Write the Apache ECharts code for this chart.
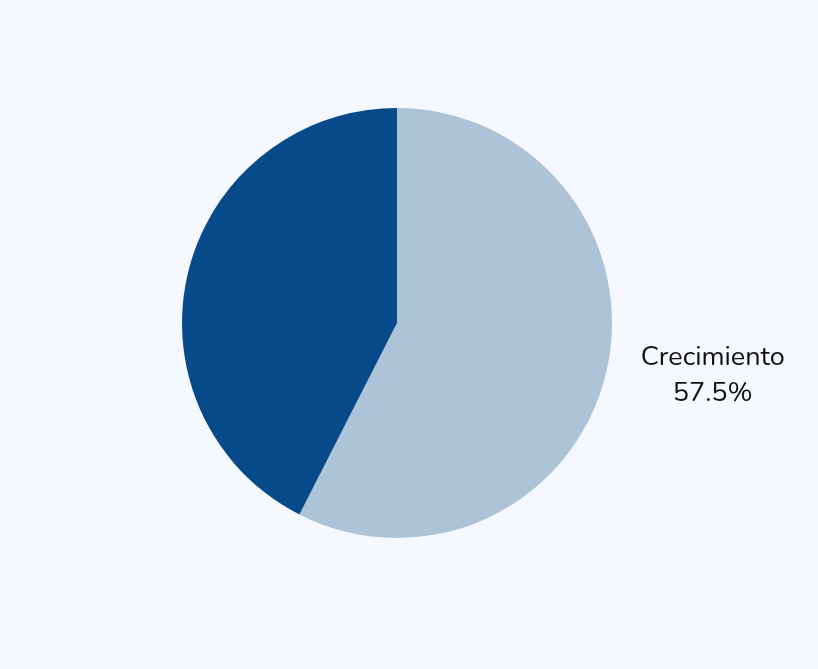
<!DOCTYPE html>
<html>
<head>
<meta charset="utf-8">
<script src="https://cdn.jsdelivr.net/npm/echarts@6/dist/echarts.min.js"></script>
<style>
  html, body { margin: 0; padding: 0; background: #f5f8ff; }
  #chart { width: 818px; height: 669px; }
</style>
</head>
<body>
<div id="chart"></div>
<script>
  var categories = ['Crecimiento', 'Burocracia'];
  var values = [57.5, 42.5];
  var colors = ['#adc3d8', '#064a8a'];

  var chart = echarts.init(document.getElementById('chart'));
  chart.setOption({
    backgroundColor: '#f5f8ff',
    animation: false,
    series: [{
      type: 'pie',
      center: [397, 323],
      radius: 215,
      startAngle: 90,
      clockwise: true,
      data: categories.map(function (c, i) {
        return { name: c, value: values[i], itemStyle: { color: colors[i] } };
      }),
      label: {
        position: 'outside',
        formatter: function (p) { return '{n|' + p.name + '}\n{n|' + p.value.toFixed(1) + '%}'; },
        rich: {
          n: { width: 180, align: 'center', fontSize: 27, lineHeight: 36,
               color: '#111', fontFamily: 'Nunito, Lato, "Noto Sans", sans-serif' }
        }
      },
      labelLine: { show: false, length: 12, length2: 0 },
      emphasis: { disabled: true }
    }]
  });
</script>
</body>
</html>
